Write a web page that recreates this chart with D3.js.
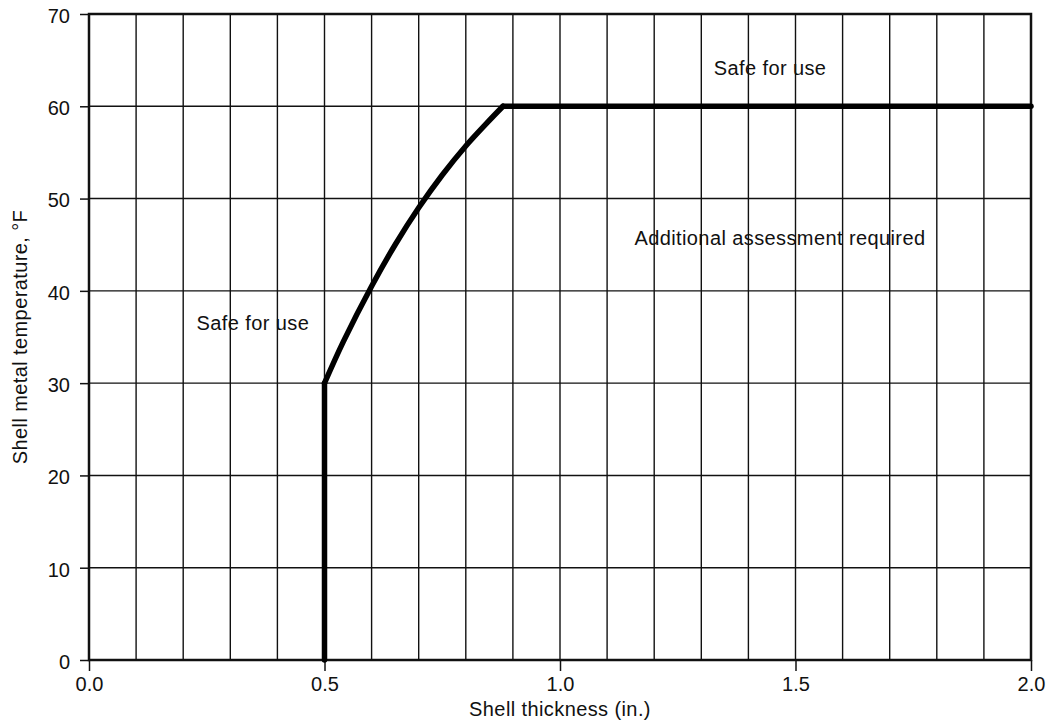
<!DOCTYPE html>
<html>
<head>
<meta charset="UTF-8">
<style>
  body { margin: 0; background: #fff; }
  text { font-family: "Liberation Sans", Arial, Helvetica, sans-serif; fill: #111; }
  .tick text { font-size: 20px; }
  .note { font-size: 20px; letter-spacing: 0.4px; }
  .title { font-size: 20px; letter-spacing: 0.4px; }
</style>
</head>
<body>
<svg></svg>
<script src="https://d3js.org/d3.v7.min.js"></script>
<script>
// boundary: shell thickness (in.) vs metal temperature (F)
const thickness = [0.5, 0.5, 0.54, 0.6, 0.65, 0.7, 0.75, 0.8, 0.845, 0.879, 2.0];
const temperature = [0, 30, 34.5, 40.5, 45.0, 49.0, 52.55, 55.7, 58.2, 60, 60];

const xTicks = [0.0, 0.5, 1.0, 1.5, 2.0];
const yTicks = [0, 10, 20, 30, 40, 50, 60, 70];

const noteText = ["Safe for use", "Additional assessment required", "Safe for use"];
const noteX = [1.446, 1.467, 0.348];
const noteY = [63.4, 45.0, 35.8];

const width = 1048, height = 723;
const margin = {left: 89, right: 17, top: 14, bottom: 63};

const svg = d3.select("svg").attr("width", width).attr("height", height);

const x = d3.scaleLinear().domain([0, 2]).range([margin.left, width - margin.right]);
const y = d3.scaleLinear().domain([0, 70]).range([height - margin.bottom, margin.top]);

// grid
svg.append("g")
  .selectAll("line")
  .data(d3.range(1, 20).map(i => i / 10))
  .enter().append("line")
    .attr("x1", d => x(d)).attr("x2", d => x(d))
    .attr("y1", y(0)).attr("y2", y(70))
    .attr("stroke", "#111").attr("stroke-width", 1.4);

svg.append("g")
  .selectAll("line")
  .data(yTicks.slice(1, -1))
  .enter().append("line")
    .attr("x1", x(0)).attr("x2", x(2))
    .attr("y1", d => y(d)).attr("y2", d => y(d))
    .attr("stroke", "#111").attr("stroke-width", 1.4);

// frame
svg.append("rect")
  .attr("x", x(0)).attr("y", y(70))
  .attr("width", x(2) - x(0)).attr("height", y(0) - y(70))
  .attr("fill", "none").attr("stroke", "#111").attr("stroke-width", 2.5);

// axes
let xAxis = svg.append("g")
  .attr("transform", `translate(0,${y(0)})`)
  .call(d3.axisBottom(x).tickValues(xTicks).tickFormat(d3.format(".1f")).tickSize(11).tickPadding(6));
xAxis.select(".domain").remove();
xAxis.selectAll(".tick line").attr("stroke", "#111").attr("stroke-width", 1.5);

let yAxis = svg.append("g")
  .attr("transform", `translate(${x(0)},0)`)
  .call(d3.axisLeft(y).tickValues(yTicks).tickSize(9).tickPadding(10));
yAxis.select(".domain").remove();
yAxis.selectAll(".tick line").attr("stroke", "#111").attr("stroke-width", 1.5);
yAxis.selectAll(".tick text").attr("dy", "0.42em");

// boundary: straight rise, curved part, flat part
const idx = d3.range(thickness.length);
const seg = (from, to, curve) => svg.append("path")
  .datum(idx.slice(from, to + 1))
  .attr("d", d3.line().x(i => x(thickness[i])).y(i => y(temperature[i])).curve(curve))
  .attr("fill", "none")
  .attr("stroke", "#000")
  .attr("stroke-width", 5.5)
  .attr("stroke-linejoin", "round")
  .attr("stroke-linecap", "round");

seg(0, 1, d3.curveLinear);
seg(1, 9, d3.curveCatmullRom.alpha(0.5));
seg(9, 10, d3.curveLinear);

// notes
svg.append("g")
  .selectAll("text")
  .data(noteText)
  .enter().append("text")
    .attr("class", "note")
    .attr("x", (d, i) => x(noteX[i]))
    .attr("y", (d, i) => y(noteY[i]))
    .attr("text-anchor", "middle")
    .text(d => d);

// titles
svg.append("text")
  .attr("class", "title")
  .attr("x", x(1))
  .attr("y", 716)
  .attr("text-anchor", "middle")
  .text("Shell thickness (in.)");

svg.append("text")
  .attr("class", "title")
  .attr("transform", `translate(27,${(y(0) + y(70)) / 2}) rotate(-90)`)
  .attr("text-anchor", "middle")
  .text("Shell metal temperature, °F");
</script>
</body>
</html>
